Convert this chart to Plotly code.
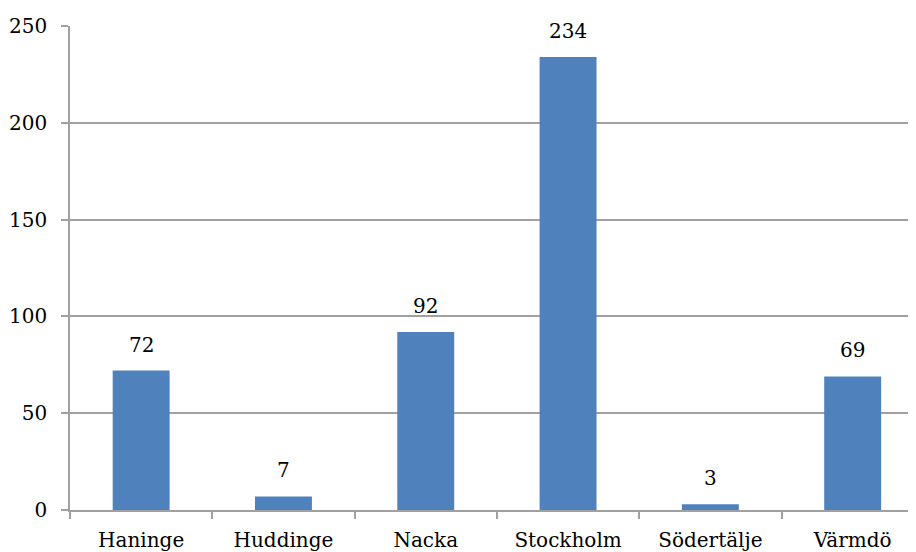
import plotly.graph_objects as go

categories = ["Haninge", "Huddinge", "Nacka", "Stockholm", "Södertälje", "Värmdö"]
values = [72, 7, 92, 234, 3, 69]
y_ticks = [0, 50, 100, 150, 200, 250]

FONT = "DejaVu Serif"
GRAY = "#a0a0a0"
FS = 20

fig = go.Figure()
fig.add_trace(go.Bar(
    x=categories, y=values, width=0.4,
    marker=dict(color="#4f81bd", line=dict(width=0)),
    hoverinfo="skip",
))
for c, v in zip(categories, values):
    fig.add_annotation(x=c, y=v, text=str(v), showarrow=False,
                       yanchor="bottom", yshift=12,
                       font=dict(family=FONT, size=FS, color="#000"))

fig.update_layout(
    width=916, height=552,
    margin=dict(l=62, r=8, t=18, b=50),
    paper_bgcolor="white", plot_bgcolor="white",
    showlegend=False,
    font=dict(family=FONT, size=FS, color="#000"),
    xaxis=dict(
        type="category", range=[-0.5, 5.445], automargin=False,
        tickson="boundaries", ticks="outside", ticklen=7, tickcolor=GRAY, tickwidth=1.5,
        showline=True, linecolor=GRAY, linewidth=1.5,
        showgrid=False, tickfont=dict(family=FONT, size=FS),
        ticklabelstandoff=11,
    ),
    yaxis=dict(
        range=[0, 250], tickvals=y_ticks, automargin=False,
        ticks="outside", ticklen=7, tickcolor=GRAY, tickwidth=1.5,
        showline=True, linecolor=GRAY, linewidth=1.5,
        showgrid=True, gridcolor=GRAY, gridwidth=1.5,
        zeroline=False, ticklabelstandoff=10,
        tickfont=dict(family=FONT, size=FS),
    ),
)

fig.write_html("out.html")
